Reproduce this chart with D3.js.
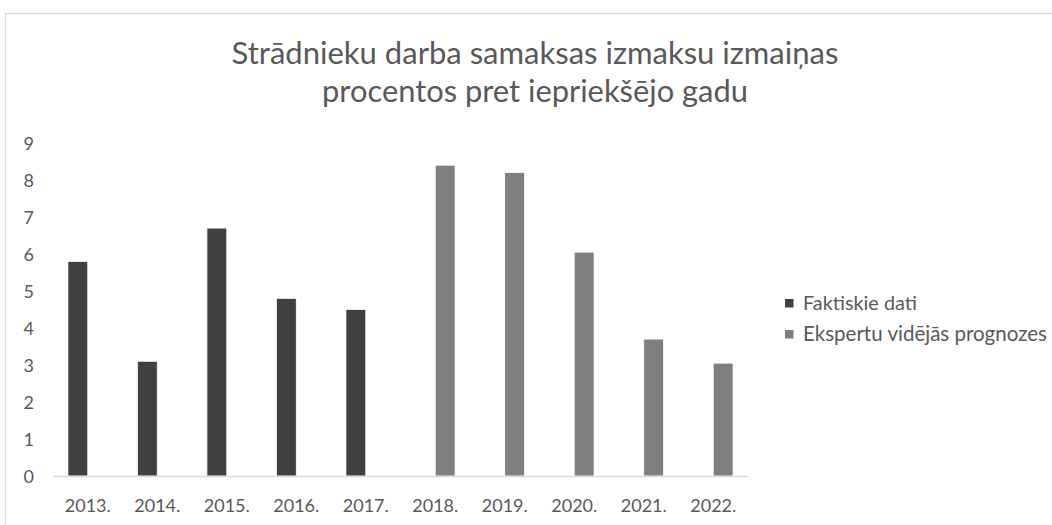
<!DOCTYPE html>
<html><head><meta charset="utf-8">
<script src="https://cdn.jsdelivr.net/npm/d3@7"></script>
<style>html,body{margin:0;padding:0;background:#fff;overflow:hidden}</style>
</head><body>
<svg id="c" width="1052" height="525"></svg>
<script>
const titleLines = ["Strādnieku darba samaksas izmaksu izmaiņas", "procentos pret iepriekšējo gadu"];
const years = ["2013.","2014.","2015.","2016.","2017.","2018.","2019.","2020.","2021.","2022."];
const seriesNames = ["Faktiskie dati", "Ekspertu vidējās prognozes"];
const actual =   [5.8, 3.1, 6.7, 4.8, 4.5, null, null, null, null, null];
const forecast = [null, null, null, null, null, 8.4, 8.2, 6.05, 3.7, 3.05];
const yTicks = [0,1,2,3,4,5,6,7,8,9];
const colors = ["#404040", "#7f7f7f"];

const FONT = "Lato, 'Open Sans', sans-serif";
const TXT = "#595959";
const svg = d3.select("#c");

function fitWidth(sel, target) {
  const base = parseFloat(sel.attr("font-size"));
  const w = sel.node().getComputedTextLength();
  sel.attr("font-size", (base * target / w).toFixed(2));
}

// chart frame
svg.append("rect").attr("x", 5.5).attr("y", 13.5).attr("width", 1100).attr("height", 600)
  .attr("fill", "#fff").attr("stroke", "#d9d9d9").attr("stroke-width", 1.5);

// title
const tl = [[64, 607], [102, 426]];
titleLines.forEach((t, i) => {
  const s = svg.append("text").attr("x", 535).attr("y", tl[i][0]).attr("text-anchor", "middle")
    .attr("font-family", FONT).attr("font-size", 28).attr("fill", TXT).text(t);
  fitWidth(s, tl[i][1]);
});

const x0 = d3.scaleBand().domain(years).range([53, 748]).paddingInner(0.43).paddingOuter(0.215);
const x1 = d3.scaleBand().domain([0, 1]).range([0, x0.bandwidth()]);
const y = d3.scaleLinear().domain([0, 9]).range([476, 143]);

// y axis labels
const yAxis = d3.axisLeft(y).tickValues(yTicks).tickSize(0).tickPadding(0).tickFormat(d3.format("d"));
const yg = svg.append("g").attr("transform", "translate(34,0)").call(yAxis);
yg.select(".domain").remove();
yg.selectAll("text").attr("font-family", FONT).attr("font-size", 18).attr("fill", TXT).attr("dy", "0.34em");

// bars
const seriesData = [actual, forecast];
seriesData.forEach((vals, si) => {
  svg.append("g").selectAll("rect")
    .data(years.map((yr, i) => ({ yr, v: vals[i] })).filter(d => d.v != null))
    .join("rect")
    .attr("x", d => x0(d.yr) + x1(si))
    .attr("width", x1.bandwidth())
    .attr("y", d => y(d.v))
    .attr("height", d => y(0) - y(d.v))
    .attr("fill", colors[si])
    .attr("stroke", "#ffffff").attr("stroke-width", 0.75);
});

// x axis
const xAxis = d3.axisBottom(x0).tickSize(0).tickPadding(0);
const xg = svg.append("g").attr("transform", "translate(0,476)").call(xAxis);
xg.select(".domain").attr("stroke", "#d9d9d9").attr("stroke-width", 1.5);
xg.selectAll("text").attr("font-family", FONT).attr("font-size", 18).attr("fill", TXT)
  .attr("y", 36).attr("dy", 0);

// legend
const leg = svg.append("g");
seriesNames.forEach((n, i) => {
  const yy = 299 + i * 31;
  leg.append("rect").attr("x", 785).attr("y", yy).attr("width", 8.5).attr("height", 8.5).attr("fill", colors[i]);
  const t = leg.append("text").attr("x", 803).attr("y", yy + 11).attr("font-family", FONT)
    .attr("font-size", 18).attr("fill", TXT).text(n);
  fitWidth(t, i === 0 ? 114 : 244);
});
</script>
</body></html>
